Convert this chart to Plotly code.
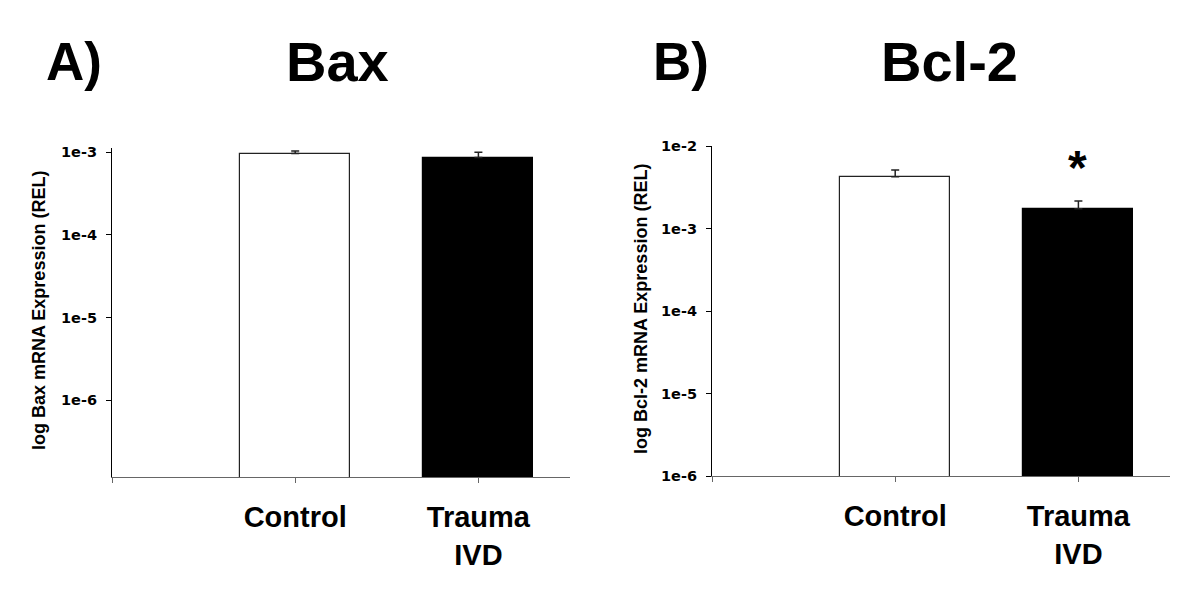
import math
import plotly.graph_objects as go

# ---- data ----
groups = ["Control", "Trauma<br>IVD"]
group_pos = [1, 2]
bax_mean = [9.6e-4, 8.6e-4]
bax_err_upper = [0.7e-4, 1.4e-4]
bcl2_mean = [4.25e-3, 1.74e-3]
bcl2_err_upper = [0.87e-3, 0.41e-3]
bcl2_sig_y = 6.95e-3
bax_yticks = [1e-6, 1e-5, 1e-4, 1e-3]
bax_yticktext = ["1e-6", "1e-5", "1e-4", "1e-3"]
bcl2_yticks = [1e-6, 1e-5, 1e-4, 1e-3, 1e-2]
bcl2_yticktext = ["1e-6", "1e-5", "1e-4", "1e-3", "1e-2"]

W, H = 1200, 606
ARIAL = "Arial, Liberation Sans, sans-serif"
TICKFONT = "DejaVu Sans, Arial, sans-serif"

def px(x):
    return x / W

def py(y):
    return (H - y) / H

bar_colors = ["white", "black"]
line_colors = ["#222222", "black"]

fig = go.Figure()
for means, errs, xa, ya in [(bax_mean, bax_err_upper, "x", "y"),
                            (bcl2_mean, bcl2_err_upper, "x2", "y2")]:
    fig.add_trace(go.Bar(
        x=group_pos, y=means, width=0.6, xaxis=xa, yaxis=ya,
        marker=dict(color=bar_colors, line=dict(color=line_colors, width=1.2)),
        error_y=dict(type="data", symmetric=False, array=errs,
                     arrayminus=[0, 0], color="#222222", thickness=1.5, width=4),
        showlegend=False, hoverinfo="skip"))

xcommon = dict(range=[0, 2.5], tickvals=[0] + group_pos, ticktext=[""] + groups,
               showline=True, linecolor="#666666", linewidth=1.2,
               ticks="outside", ticklen=5, tickcolor="#666666",
               showgrid=False, zeroline=False, automargin=False,
               tickfont=dict(family=ARIAL, size=29, color="black", weight="bold"),
               ticklabelstandoff=9)
ycommon = dict(type="log", showline=True, linecolor="black", linewidth=1.2,
               ticks="outside", ticklen=5, tickcolor="black",
               showgrid=False, zeroline=False, automargin=False,
               tickfont=dict(family=TICKFONT, size=14.5, color="black", weight="bold"),
               ticklabelstandoff=6)

fig.update_layout(
    width=W, height=H, autosize=False,
    margin=dict(l=0, r=0, t=0, b=0, pad=0, autoexpand=False),
    paper_bgcolor="white", plot_bgcolor="white", bargap=0,
    xaxis=dict(domain=[px(112), px(570)], anchor="y", **xcommon),
    yaxis=dict(domain=[py(477), py(148)], anchor="x", range=[-6.93, -2.95],
               tickvals=bax_yticks, ticktext=bax_yticktext, **ycommon),
    xaxis2=dict(domain=[px(712), px(1170)], anchor="y2", **xcommon),
    yaxis2=dict(domain=[py(476), py(146)], anchor="x2", range=[-6, -2],
                tickvals=bcl2_yticks, ticktext=bcl2_yticktext, **ycommon),
)

def big(text, x, y, xanchor, size=56):
    fig.add_annotation(text=text, xref="paper", yref="paper", x=px(x), y=py(y),
                       xanchor=xanchor, yanchor="middle", showarrow=False,
                       font=dict(family=ARIAL, size=size, color="black", weight="bold"))

big("A)", 44, 61, "left", 53)
big("Bax", 337, 61, "center")
big("B)", 651, 61, "left", 53)
big("Bcl-2", 949, 61, "center")

for text, x, y in [("log Bax mRNA Expression (REL)", 39, 311),
                   ("log Bcl-2 mRNA Expression (REL)", 641, 309)]:
    fig.add_annotation(text=text, xref="paper", yref="paper", x=px(x), y=py(y),
                       xanchor="center", yanchor="middle", textangle=-90, showarrow=False,
                       font=dict(family=ARIAL, size=18, color="black", weight="bold"))

fig.add_annotation(text="*", x=group_pos[1], y=math.log10(bcl2_sig_y), xref="x2", yref="y2",
                   yanchor="middle", xanchor="center", showarrow=False, yshift=-8, xshift=-1,
                   font=dict(family=ARIAL, size=48, color="black", weight="bold"))

fig.write_html("out.html", config={"displayModeBar": False},
               post_script="document.body.style.margin='0';document.body.style.overflow='hidden';")
